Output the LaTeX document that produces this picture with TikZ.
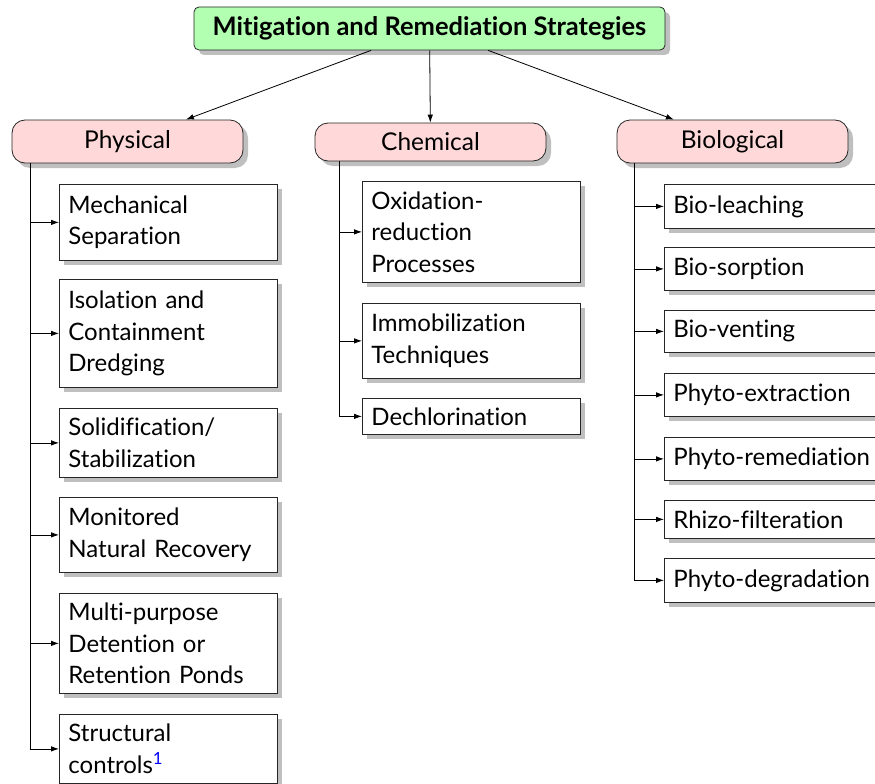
\documentclass[tikz,border=0pt]{standalone}
\usepackage{fontspec}
\setmainfont{Lato}[Ligatures={NoCommon}]
\usetikzlibrary{shadows,arrows.meta}
\tikzset{
  shad/.style={drop shadow={shadow xshift=5pt,shadow yshift=-5pt,fill=black!25,opacity=1}},
  leaf/.style={draw=black!85,line width=0.8pt,fill=white,rectangle,anchor=north west,
    text width=200pt,inner xsep=9pt,inner ysep=0pt,align=left,shad,
    font=\fontsize{24}{31.5}\selectfont},
  cat/.style={draw=black!85,line width=0.8pt,fill=red!15,rectangle,rounded corners=13pt,
    minimum width=231pt,inner sep=0pt,shad,font=\fontsize{24.5}{28}\selectfont},
  top/.style={draw=black!85,line width=0.8pt,fill=green!30,rectangle,rounded corners=5pt,
    minimum width=471pt,minimum height=43pt,inner sep=0pt,shad,font=\fontsize{25.5}{28}\selectfont\bfseries},
  conn/.style={line width=0.8pt,-{Latex[length=8pt,width=5.5pt]}}
}
\begin{document}
\begin{tikzpicture}[x=1pt,y=-1pt]
\useasboundingbox (0,0) rectangle (875,784);
\node[top] (title) at (429.5,28.5) {Mitigation and Remediation Strategies};
\node[cat,minimum height=43pt] (phys) at (127.5,141.5) {Physical};
\node[cat,minimum height=38pt] (chem) at (430.5,142) {Chemical};
\node[cat,minimum height=43pt] (bio) at (732.5,141.5) {Biological};
% Physical
\node[leaf,minimum height=76pt] (p1) at (59,184) {Mechanical\\Separation};
\node[leaf,minimum height=108pt] (p2) at (59,279) {Isolation and\\Containment\\Dredging};
\node[leaf,minimum height=69pt] (p3) at (59,408) {Solidification/\\Stabilization};
\node[leaf,minimum height=75pt] (p4) at (59,497) {Monitored\\Natural Recovery};
\node[leaf,minimum height=100pt] (p5) at (59,593) {Multi-purpose\\Detention or\\Retention Ponds};
\node[leaf,minimum height=69pt] (p6) at (59,714) {Structural\\controls\textsuperscript{\color{blue}1}};
% Chemical
\node[leaf,minimum height=101pt] (c1) at (362,181) {Oxidation-\\reduction\\Processes};
\node[leaf,minimum height=75pt] (c2) at (362,303) {Immobilization\\Techniques};
\node[leaf,minimum height=36pt] (c3) at (362,398) {Dechlorination};
% Biological
\node[leaf,minimum height=44pt] (b1) at (664,184) {Bio-leaching};
\node[leaf,minimum height=43pt] (b2) at (664,247) {Bio-sorption};
\node[leaf,minimum height=42pt] (b3) at (664,310) {Bio-venting};
\node[leaf,minimum height=43pt] (b4) at (664,373) {Phyto-extraction};
\node[leaf,minimum height=43pt] (b5) at (664,437) {Phyto-remediation};
\node[leaf,minimum height=38pt] (b6) at (664,500) {Rhizo-filteration};
\node[leaf,minimum height=44pt] (b7) at (664,558) {Phyto-degradation};
% top connectors
\draw[conn] (title) -- (phys);
\draw[conn] (title) -- (chem);
\draw[conn] (title) -- (bio);
% branch coordinates
\coordinate (ps) at ([xshift=19pt]phys.south west);
\coordinate (cs) at ([xshift=25pt]chem.south west);
\coordinate (bs) at ([xshift=18pt]bio.south west);
\foreach \n in {p1,p2,p3,p4,p5,p6} \draw[conn] (ps) |- (\n.west);
\foreach \n in {c1,c2,c3} \draw[conn] (cs) |- (\n.west);
\foreach \n in {b1,b2,b3,b4,b5,b6,b7} \draw[conn] (bs) |- (\n.west);
\end{tikzpicture}
\end{document}
